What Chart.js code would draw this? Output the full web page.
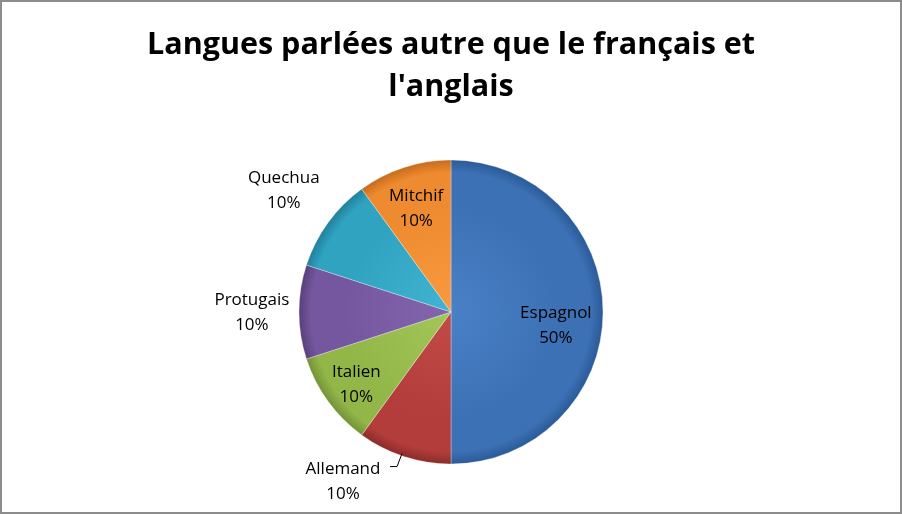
<!DOCTYPE html>
<html>
<head>
<meta charset="utf-8">
<script src="https://cdn.jsdelivr.net/npm/chart.js@4"></script>
<style>
  html, body { margin: 0; padding: 0; background: #fff; }
  .frame { position: relative; width: 902px; height: 514px; box-sizing: border-box; border: 2px solid #8c8c8c; }
  .frame canvas { position: absolute; left: -2px; top: -2px; }
</style>
</head>
<body>
<div class="frame"><canvas id="chart" width="902" height="514"></canvas></div>
<script>
// ── data ──
const TITLE_LINES = ['Langues parlées autre que le français et', "l'anglais"];
const LANGUES = ['Espagnol', 'Allemand', 'Italien', 'Protugais', 'Quechua', 'Mitchif'];
const PARTS = [50, 10, 10, 10, 10, 10];

// ── styles ──
const BASE_COLORS = ['#3c71b5', '#b23d3a', '#93b648', '#75579f', '#30a3c1', '#ee8a2f'];
const LIGHT_COLORS = ['#4a80c6', '#c24b47', '#a3c658', '#8466ae', '#41b4d1', '#f99a40'];
const DARK_COLORS = ['#2b5a96', '#8c2c2a', '#739338', '#58407c', '#22819b', '#c66c1e'];
// label placement: radius factor, nudge x/y
const LABEL_POS = [
  { r: 0.69, dx: 0, dy: 13 },
  { r: 1.32, dx: -46, dy: -22, leader: true },
  { r: 0.77, dx: 0, dy: 3 },
  { r: 1.31, dx: 0, dy: 0 },
  { r: 1.36, dx: 0, dy: 0 },
  { r: 0.72, dx: -1, dy: 0 }
];
const PIE_RADIUS = 152;

const FONT = '"Open Sans", "Liberation Sans", sans-serif';

function sliceFill(ctx) {
  const chart = ctx.chart;
  const i = ctx.dataIndex;
  const area = chart.chartArea;
  if (!area) return BASE_COLORS[i];
  const cx = (area.left + area.right) / 2;
  const cy = (area.top + area.bottom) / 2;
  const g = chart.ctx.createRadialGradient(cx, cy, 0, cx, cy, PIE_RADIUS);
  g.addColorStop(0, LIGHT_COLORS[i]);
  g.addColorStop(0.7, BASE_COLORS[i]);
  g.addColorStop(0.92, BASE_COLORS[i]);
  g.addColorStop(1, DARK_COLORS[i]);
  return g;
}

const titlePlugin = {
  id: 'excelTitle',
  afterDraw(chart) {
    const c = chart.ctx;
    c.save();
    c.fillStyle = '#000';
    c.font = 'bold 30.5px ' + FONT;
    c.textAlign = 'center';
    c.textBaseline = 'middle';
    TITLE_LINES.forEach((t, k) => c.fillText(t, 451, 45 + k * 42));
    c.restore();
  }
};

const labelPlugin = {
  id: 'sliceLabels',
  afterDatasetsDraw(chart) {
    const c = chart.ctx;
    const meta = chart.getDatasetMeta(0);
    const total = PARTS.reduce((a, b) => a + b, 0);
    c.save();
    c.font = '17px ' + FONT;
    c.fillStyle = '#000';
    c.textAlign = 'center';
    c.textBaseline = 'middle';
    meta.data.forEach((arc, i) => {
      const p = LABEL_POS[i];
      const mid = (arc.startAngle + arc.endAngle) / 2;
      const R = arc.outerRadius;
      const x = arc.x + Math.cos(mid) * R * p.r + p.dx;
      const y = arc.y + Math.sin(mid) * R * p.r + p.dy;
      const pct = Math.round(PARTS[i] / total * 100) + '%';
      c.fillText(LANGUES[i], x, y - 12);
      c.fillText(pct, x, y + 13);
      if (p.leader) {
        const ex = arc.x + Math.cos(mid) * R;
        const ey = arc.y + Math.sin(mid) * R;
        c.strokeStyle = '#000';
        c.lineWidth = 1;
        c.beginPath();
        c.moveTo(ex - 2, ey - 3);
        c.lineTo(ex - 7, ey + 10);
        c.lineTo(ex - 14, ey + 10);
        c.stroke();
      }
    });
    c.restore();
  }
};

new Chart(document.getElementById('chart'), {
  type: 'pie',
  data: {
    labels: LANGUES,
    datasets: [{
      data: PARTS,
      backgroundColor: sliceFill,
      borderColor: 'rgba(255,255,255,0.3)',
      borderWidth: 1,
      radius: PIE_RADIUS
    }]
  },
  options: {
    responsive: false,
    animation: false,
    layout: { padding: { top: 110, bottom: 0, left: 0, right: 0 } },
    plugins: {
      legend: { display: false },
      tooltip: { enabled: false },
      title: { display: false }
    }
  },
  plugins: [labelPlugin, titlePlugin]
});
</script>
</body>
</html>
